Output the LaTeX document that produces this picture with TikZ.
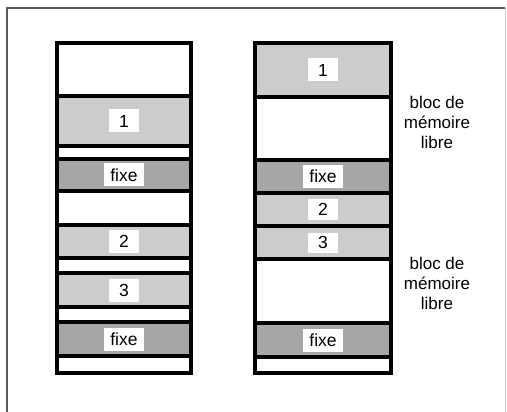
\documentclass[tikz,border=0pt]{standalone}
\usepackage{fontspec}
\setmainfont{Liberation Sans}
\usepackage{tikz}
\usetikzlibrary{positioning}
\usepackage{xcolor}

\begin{document}
\begin{tikzpicture}[x=1pt,y=-1pt,
  seg/.style={draw,line width=3.3pt,inner sep=0pt},
  free/.style={seg,fill=white},
  prog/.style={seg,fill=gray!40},
  fixed/.style={seg,fill=gray!70},
  tag/.style={fill=white,inner xsep=6pt,inner ysep=0pt,minimum width=30pt,minimum height=23pt,font=\fontsize{17.5}{19}\selectfont},
  note/.style={align=center,font=\fontsize{17}{20}\selectfont}]
\useasboundingbox (0,0) rectangle (507,412);
\draw[gray!70!black,line width=1.5pt] (7,412) -- (7,8) -- (505,8);
\draw[gray!40,line width=0.8pt] (505,8) -- (505,412);
% colonne de gauche : memoire fragmentee
\foreach \n/\y/\h/\k in {L1/69.5/53/free,L2/121/50/prog,L3/152.5/13/free,L4/175/32/fixed,
  L5/208/34/free,L6/241.5/33/prog,L7/265.5/15/free,L8/290/34/prog,L9/314.5/15/free,
  L10/339/34/fixed,L11/364.5/17/free}
  \node[style=\k,minimum width=134pt,minimum height=\h pt] (\n) at (124,\y) {};
% colonne de droite : apres compactage
\foreach \n/\y/\h/\k in {R1/70/54/prog,R2/128.5/63/free,R3/176.5/33/fixed,R4/209.5/33/prog,
  R5/242.5/33/prog,R6/291/64/free,R7/340/34/fixed,R8/365/16/free}
  \node[style=\k,minimum width=136pt,minimum height=\h pt] (\n) at (323,\y) {};
\node[tag] (t1) at (L2) {1};
\node[tag] (t2) at (L4) {fixe};
\node[tag] (t3) at (L6) {2};
\node[tag] (t4) at (L8) {3};
\node[tag] (t5) at (L10) {fixe};
\node[tag] (u1) at (R1) {1};
\node[tag] (u2) at (R3) {fixe};
\node[tag,minimum height=20pt] (u3) at (R4) {2};
\node[tag,minimum height=20pt] (u4) at (R5) {3};
\node[tag] (u5) at (R7) {fixe};
\node[note] (b1) at (437,122) {bloc de\\mémoire\\libre};
\node[note] (b2) at (437,283) {bloc de\\mémoire\\libre};
\end{tikzpicture}
\end{document}
